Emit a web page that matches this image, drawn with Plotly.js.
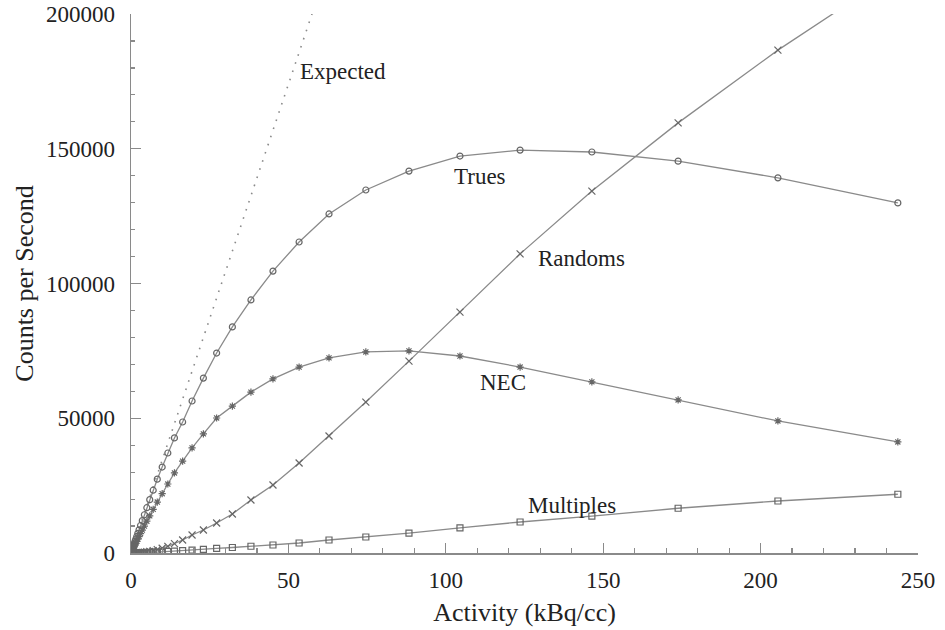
<!DOCTYPE html>
<html>
<head>
<meta charset="utf-8">
<script src="https://cdn.plot.ly/plotly-3.0.1.min.js"></script>
<style>html,body{margin:0;padding:0;background:#fff;}#chart{width:945px;height:630px;}</style>
</head>
<body>
<div id="chart"></div>
<script>
// Activity (kBq/cc) at each measured point
var activity = [0.47, 0.56, 0.66, 0.78, 0.93, 1.10, 1.30, 1.54, 1.82, 2.16, 2.56, 3.03, 3.59, 4.25, 5.03, 5.95, 7.05, 8.35, 9.9, 11.7, 13.8, 16.4, 19.4, 23.0, 27.2, 32.2, 38.1, 45.1, 53.4, 62.9, 74.6, 88.3, 104.5, 123.6, 146.4, 173.8, 205.5, 243.6];

var trues = [1600, 1900, 2250, 2650, 3150, 3700, 4400, 5200, 6150, 7300, 8600, 10200, 12000, 14200, 16800, 19800, 23300, 27400, 31900, 37100, 42700, 48600, 56400, 64900, 74200, 83900, 93900, 104600, 115400, 125800, 134700, 141700, 147300, 149500, 148800, 145400, 139200, 129900];

var nec = [1130, 1350, 1590, 1880, 2240, 2650, 3120, 3700, 4350, 5150, 6100, 7200, 8500, 10000, 11800, 13800, 16200, 18900, 22000, 25600, 29700, 34100, 39000, 44200, 50100, 54500, 59700, 64600, 69000, 72400, 74600, 75000, 73100, 69000, 63500, 56800, 49000, 41200];

var randoms = [4, 6, 8, 11, 16, 22, 30, 43, 60, 84, 117, 165, 230, 320, 450, 630, 890, 1250, 1760, 2450, 3450, 4820, 6680, 8530, 11130, 14470, 19670, 25230, 33400, 43400, 56000, 71200, 89400, 111000, 134300, 159600, 186600, 216000];

var multiples = [10, 12, 15, 18, 22, 27, 33, 41, 50, 63, 78, 95, 120, 150, 185, 230, 290, 360, 450, 560, 700, 880, 1100, 1350, 1700, 2050, 2500, 2970, 3710, 4820, 5940, 7400, 9300, 11500, 13700, 16600, 19300, 21800];

var expectedActivity = [0, 57.5];
var expectedCounts = [0, 200000];

var seriesLabels = ["Expected", "Trues", "Randoms", "NEC", "Multiples"];
var labelActivity = [53.0, 102.0, 128.7, 110.2, 125.5];
var labelCounts = [178500, 139700, 109100, 63100, 17800];

var xTicks = [0, 50, 100, 150, 200, 250];
var yTicks = [0, 50000, 100000, 150000, 200000];

var lineColor = '#8a8a8a';
var markerLine = {color: '#666666', width: 1.2};
var serif = 'Liberation Serif, Times New Roman, serif';

var traces = [
  {x: expectedActivity, y: expectedCounts, mode: 'lines', line: {color: '#8a8a8a', width: 1.6, dash: '1.6px,7px'}, name: 'Expected'},
  {x: activity, y: trues, mode: 'lines+markers', line: {color: lineColor, width: 1.3}, marker: {symbol: 'circle-open', size: 6, color: '#666666', line: markerLine}, name: 'Trues'},
  {x: activity, y: randoms, mode: 'lines+markers', line: {color: lineColor, width: 1.3}, marker: {symbol: 'x-thin-open', size: 7, color: '#666666', line: markerLine}, name: 'Randoms'},
  {x: activity, y: nec, mode: 'lines+markers', line: {color: lineColor, width: 1.3}, marker: {symbol: 'asterisk-open', size: 6, color: '#666666', line: markerLine}, name: 'NEC'},
  {x: activity, y: multiples, mode: 'lines+markers', line: {color: lineColor, width: 1.3}, marker: {symbol: 'square-open', size: 6, color: '#666666', line: markerLine}, name: 'Multiples'}
];

var annotations = seriesLabels.map(function (t, i) {
  return {x: labelActivity[i], y: labelCounts[i], xref: 'x', yref: 'y', text: t, showarrow: false,
          xanchor: 'left', yanchor: 'middle', font: {family: serif, size: 23, color: '#222222'}};
});

var layout = {
  width: 945, height: 630,
  margin: {l: 131, r: 27, t: 14, b: 77},
  paper_bgcolor: '#fff', plot_bgcolor: '#fff',
  showlegend: false,
  font: {family: serif, color: '#222222', size: 23},
  xaxis: {
    range: [0, 250], tickvals: xTicks, ticktext: xTicks.map(String),
    showline: true, linecolor: '#8a8a8a', linewidth: 1.5, mirror: false,
    ticks: 'inside', ticklen: 10, tickcolor: '#8a8a8a', tickwidth: 1.3,
    minor: {dtick: 10, ticks: 'inside', ticklen: 5, tickcolor: '#8a8a8a', tickwidth: 1.2, showgrid: false},
    showgrid: false, zeroline: false, ticklabelstandoff: 6,
    tickfont: {family: serif, size: 23, color: '#222222'},
    title: {text: 'Activity (kBq/cc)', font: {family: serif, size: 26, color: '#222222'}, standoff: 10}
  },
  yaxis: {
    range: [0, 200000], tickvals: yTicks, ticktext: yTicks.map(String),
    showline: true, linecolor: '#8a8a8a', linewidth: 1.5, mirror: false,
    ticks: 'inside', ticklen: 10, tickcolor: '#8a8a8a', tickwidth: 1.3,
    minor: {dtick: 10000, ticks: 'inside', ticklen: 4, tickcolor: '#8a8a8a', tickwidth: 1.2, showgrid: false},
    showgrid: false, zeroline: false, ticklabelstandoff: 10,
    tickfont: {family: serif, size: 23, color: '#222222'},
    title: {text: 'Counts per Second', font: {family: serif, size: 26, color: '#222222'}, standoff: 5}
  },
  annotations: annotations
};

Plotly.newPlot('chart', traces, layout, {displayModeBar: false, staticPlot: true});
</script>
</body>
</html>
